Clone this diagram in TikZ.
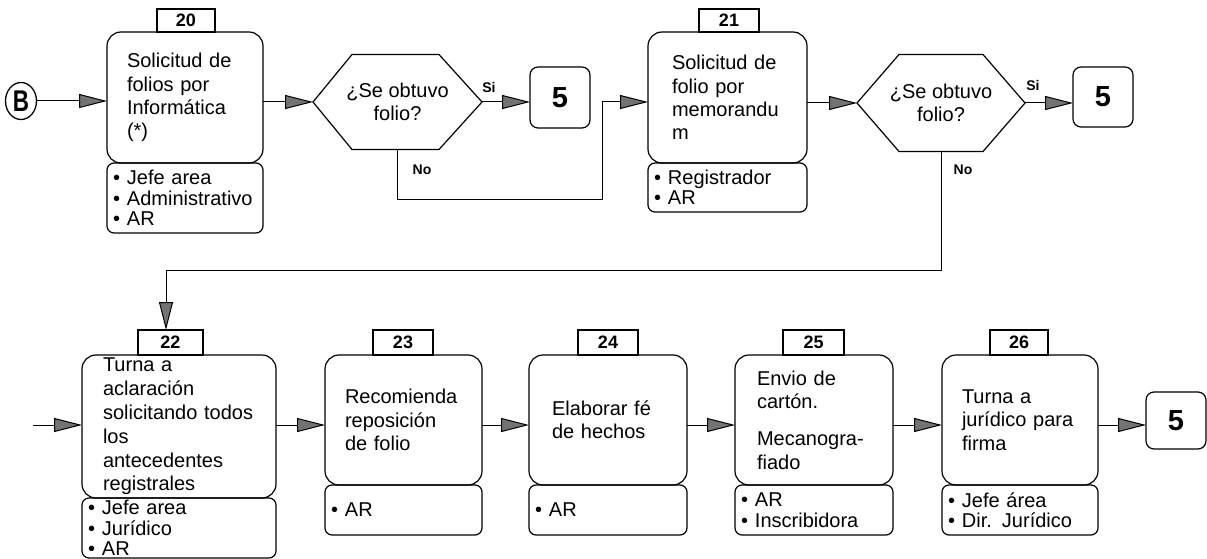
\documentclass[tikz,border=0pt]{standalone}
\usepackage{fontspec}
\setmainfont{Liberation Sans}
\usetikzlibrary{arrows.meta,shapes.geometric}
\newcommand{\bulit}{\makebox[14pt][l]{•}}
\begin{document}
\begin{tikzpicture}[x=1pt,y=-1pt,
  mainbox/.style={draw, line width=1.2pt, rounded corners=14pt, inner ysep=0pt, outer sep=0pt, align=left, font=\fontsize{20}{23.3}\selectfont},
  subbox/.style={draw, line width=1.2pt, rounded corners=7pt, inner xsep=6pt, inner ysep=0pt, outer sep=0pt, align=left, font=\fontsize{20}{20.5}\selectfont},
  tabbox/.style={draw, line width=1.2pt, inner sep=0pt, outer sep=0pt, font=\fontsize{18}{18}\bfseries\selectfont},
  endbox/.style={draw, line width=1.2pt, rounded corners=8pt, minimum width=60pt, inner sep=0pt, outer sep=0pt, font=\fontsize{29}{29}\bfseries\selectfont},
  hexbox/.style={inner sep=0pt, outer sep=0pt, align=center, font=\fontsize{20}{23.3}\selectfont},
  hexline/.style={line width=1.2pt, line join=miter},
  lbl/.style={font=\fontsize{14}{14}\bfseries\selectfont, inner sep=0pt},
  arr/.style={line width=1pt, -{Triangle[length=28pt,width=14pt,fill=black!55]}},
]
\useasboundingbox (0,0) rectangle (1207,559);

% ---- row 1 ----
\node[draw, ellipse, line width=1.3pt, minimum width=31pt, minimum height=37pt, inner sep=0pt] (B) at (21,101) {\fontsize{30}{30}\bfseries\selectfont\scalebox{0.75}[1]{B}};

\node[mainbox, text width=116pt, inner xsep=20pt, minimum height=131pt] (b20) at (185,97.5)
  {Solicitud de\\folios por\\Informática\\(*)};
\node[tabbox, minimum width=58pt, minimum height=23pt] (t20) at (186,20.5) {20};
\node[subbox, text width=144pt, minimum height=70pt] (s20) at (185,198)
  {\bulit Jefe area\\\bulit Administrativo\\\bulit AR};

\node[hexbox, minimum width=169pt, minimum height=95pt] (h1) at (397.5,102) {¿Se obtuvo\\folio?};
\draw[hexline] (h1.west) -- ([xshift=39pt]h1.north west) -- ([xshift=-43pt]h1.north east) -- (h1.east)
  -- ([xshift=-43pt]h1.south east) -- ([xshift=39pt]h1.south west) -- cycle;
\node[endbox, minimum height=61pt] (f1) at (560,97.5) {5};
\node[lbl] (si1) at (489,87) {Si};
\node[lbl] (no1) at (422,170) {No};

\node[mainbox, text width=111pt, inner xsep=24pt, minimum height=131pt] (b21) at (727.5,97.5)
  {Solicitud de\\folio por\\memorandu\\m};
\node[tabbox, minimum width=60pt, minimum height=23pt] (t21) at (729,20.5) {21};
\node[subbox, text width=147pt, minimum height=49pt] (s21) at (727.5,187.5)
  {\bulit Registrador\\\bulit AR};

\node[hexbox, minimum width=168pt, minimum height=97pt] (h2) at (941,103) {¿Se obtuvo\\folio?};
\draw[hexline] (h2.west) -- ([xshift=42pt]h2.north west) -- ([xshift=-42pt]h2.north east) -- (h2.east)
  -- ([xshift=-42pt]h2.south east) -- ([xshift=42pt]h2.south west) -- cycle;
\node[endbox, minimum height=60pt] (f2) at (1103,97) {5};
\node[lbl] (si2) at (1033,85) {Si};
\node[lbl] (no2) at (963,170) {No};

\coordinate (n1) at (602,199);
\coordinate (n2) at (166,270);

\draw[arr] (B.east) -- (b20.west |- B);
\draw[arr] (b20.east |- h1.west) -- (h1.west);
\draw[arr] (h1.east) -- (f1.west |- h1.east);
\draw[arr] (h1.south) |- (n1) |- (b21.west |- h1.west);
\draw[arr] (b21.east |- h2.west) -- (h2.west);
\draw[arr] (h2.east) -- (f2.west |- h2.east);

% ---- row 2 ----
\node[mainbox, text width=152pt, inner xsep=21pt, minimum height=143pt, font=\fontsize{20}{23.8}\selectfont] (b22) at (179,426.5)
  {Turna a\\aclaración\\solicitando todos\\los\\antecedentes\\registrales};
\node[tabbox, minimum width=65pt, minimum height=25pt] (t22) at (170.5,342.5) {22};
\node[subbox, text width=182pt, minimum height=60pt] (s22) at (179,528)
  {\bulit Jefe area\\\bulit Jurídico\\\bulit AR};

\node[mainbox, text width=117pt, inner xsep=20pt, minimum height=130pt] (b23) at (403.5,420)
  {Recomienda\\reposición\\de folio};
\node[tabbox, minimum width=60pt, minimum height=25pt] (t23) at (403,342.5) {23};
\node[subbox, text width=145pt, minimum height=50pt] (s23) at (403.5,510) {\bulit AR};

\node[mainbox, text width=112pt, inner xsep=23pt, minimum height=130pt] (b24) at (608,420)
  {Elaborar fé\\de hechos};
\node[tabbox, minimum width=60pt, minimum height=25pt] (t24) at (608,342.5) {24};
\node[subbox, text width=146pt, minimum height=50pt] (s24) at (608,510) {\bulit AR};

\node[mainbox, text width=114pt, inner xsep=22pt, minimum height=130pt] (b25) at (814,420)
  {Envio de\\cartón.\\[14pt]Mecanogra-\\fiado};
\node[tabbox, minimum width=61pt, minimum height=25pt] (t25) at (813.5,342.5) {25};
\node[subbox, text width=146pt, minimum height=50pt] (s25) at (814,510)
  {\bulit AR\\\bulit Inscribidora};

\node[mainbox, text width=116pt, inner xsep=20pt, minimum height=130pt] (b26) at (1020,420)
  {Turna a\\jurídico para\\firma};
\node[tabbox, minimum width=58pt, minimum height=25pt] (t26) at (1019,342.5) {26};
\node[subbox, text width=144pt, minimum height=50pt] (s26) at (1020,510)
  {\bulit Jefe área\\\bulit Dir. Jurídico};

\node[endbox, minimum height=57pt] (f3) at (1176,420.5) {5};

\coordinate (in2) at (33,425);
\coordinate (r2) at (0,425);

\draw[arr] (h2.south) |- (n2) -- (n2 |- t22.north);
\draw[arr] (in2) -- (b22.west |- in2);
\draw[arr] (b22.east |- r2) -- (b23.west |- r2);
\draw[arr] (b23.east |- r2) -- (b24.west |- r2);
\draw[arr] (b24.east |- r2) -- (b25.west |- r2);
\draw[arr] (b25.east |- r2) -- (b26.west |- r2);
\draw[arr] (b26.east |- r2) -- (f3.west |- r2);
\end{tikzpicture}
\end{document}
